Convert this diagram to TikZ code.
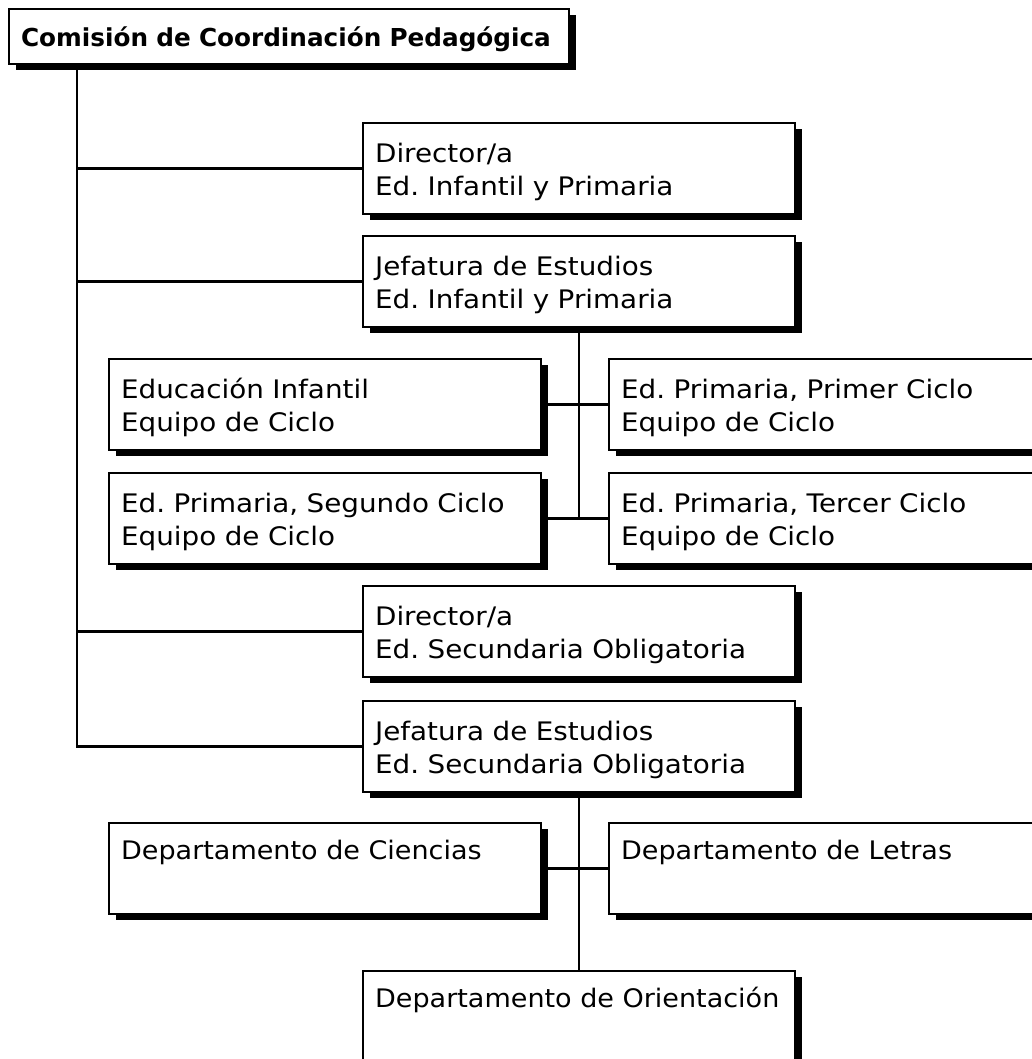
\documentclass[tikz,border=0pt]{standalone}
\usepackage{fontspec}
\setmainfont{DejaVu Sans}
\newfontfamily\boxfont[FakeStretch=1.09]{DejaVu Sans}
\newfontfamily\deptfont[FakeStretch=1.06]{DejaVu Sans}
\usetikzlibrary{shadows,backgrounds}
\frenchspacing
\begin{document}
\begin{tikzpicture}[x=1pt,y=-1pt,
  orgbox/.style={draw, line width=2.2pt, fill=white, anchor=north west,
    inner xsep=12pt, inner ysep=0pt, text width=408pt, align=left,
    text height=39pt, text depth=52pt,
    font=\boxfont\frenchspacing\fontsize{25.5}{33}\selectfont,
    drop shadow={shadow xshift=7pt, shadow yshift=-6pt, fill=black, opacity=1}},
  widebox/.style={orgbox, text width=476pt},
  deptbox/.style={text height=36pt, text depth=55pt,
    font=\deptfont\frenchspacing\fontsize{25.5}{33}\selectfont},
  titlebox/.style={orgbox, text width=536pt, inner xsep=12pt,
    text height=37pt, text depth=18pt,
    font=\bfseries\frenchspacing\fontsize{24.7}{30}\selectfont},
  link/.style={line width=2.4pt}]
\useasboundingbox (0,0) rectangle (1032,1059);

\node[titlebox] (top) at (8,8) {Comisión de Coordinación Pedagógica};
\node[orgbox] (dir1) at (362,122) {Director/a\\Ed. Infantil y Primaria};
\node[orgbox] (jef1) at (362,235) {Jefatura de Estudios\\Ed. Infantil y Primaria};
\node[orgbox] (edinf) at (108,358) {Educación Infantil\\Equipo de Ciclo};
\node[widebox] (prim1) at (608,358) {Ed. Primaria, Primer Ciclo\\Equipo de Ciclo};
\node[orgbox] (seg) at (108,472) {Ed. Primaria, Segundo Ciclo\\Equipo de Ciclo};
\node[widebox] (terc) at (608,472) {Ed. Primaria, Tercer Ciclo\\Equipo de Ciclo};
\node[orgbox] (dirso) at (362,585) {Director/a\\Ed. Secundaria Obligatoria};
\node[orgbox] (jefso) at (362,700) {Jefatura de Estudios\\Ed. Secundaria Obligatoria};
\node[orgbox, deptbox] (cien) at (108,822) {Departamento de Ciencias};
\node[widebox, deptbox] (letr) at (608,822) {Departamento de Letras};
\node[orgbox, deptbox, text depth=120pt] (orient) at (362,970) {\mbox{Departamento de Orientación}};

\begin{scope}[on background layer]
  \fill[white] (0,0) rectangle (1032,1059);
  \coordinate (trunk) at ([xshift=69pt]top.south west);
  \draw[link] (trunk) |- (jefso.west);
  \draw[link] (dir1.west) -- (dir1.west -| trunk);
  \draw[link] (jef1.west) -- (jef1.west -| trunk);
  \draw[link] (dirso.west) -- (dirso.west -| trunk);
  \draw[link] (jef1.south) -- (jef1.south |- terc.west);
  \draw[link] (edinf.east) -- (prim1.west);
  \draw[link] (seg.east) -- (terc.west);
  \draw[link] (jefso.south) -- (orient.north);
  \draw[link] (cien.east) -- (letr.west);
\end{scope}
\end{tikzpicture}
\end{document}
